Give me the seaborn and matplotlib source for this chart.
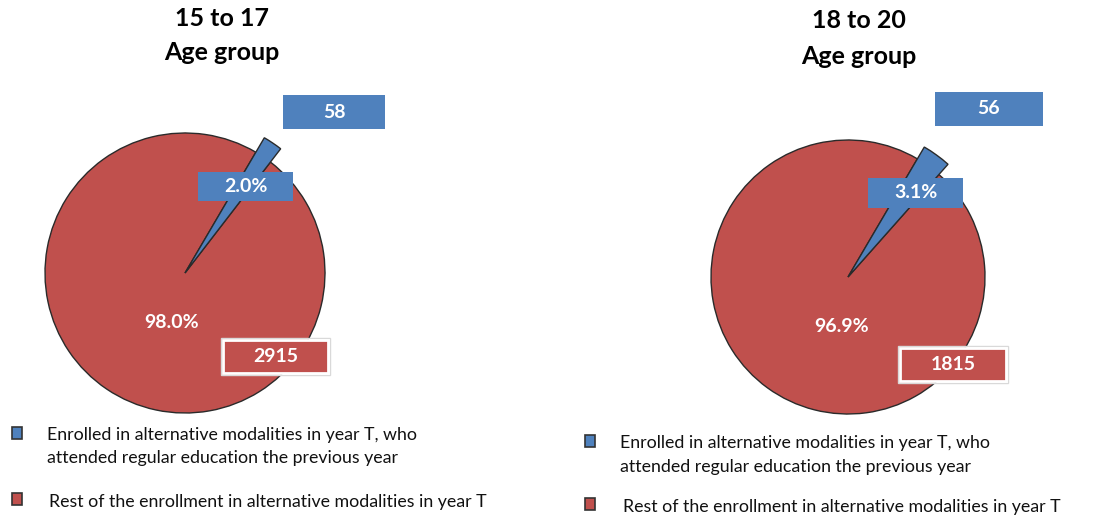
import matplotlib
matplotlib.use("Agg")
import matplotlib.pyplot as plt
from matplotlib.patches import Rectangle
import seaborn as sns

# Data
groups = ["15 to 17\nAge group", "18 to 20\nAge group"]
counts_prev_regular = [58, 56]          # enrolled in alternative modalities, regular education previous year
counts_rest = [2915, 1815]              # rest of the enrollment in alternative modalities
pct_prev_regular = [2.0, 3.1]
pct_rest = [98.0, 96.9]
legend_labels = [
    "Enrolled in alternative modalities in year T, who\nattended regular education the previous year",
    "Rest of the enrollment in alternative modalities in year T",
]

sns.set_theme(style="white")
plt.rcParams["font.family"] = ["Lato", "DejaVu Sans"]

BLUE = "#4F81BD"
RED = "#C0504D"
colors = [BLUE, RED]

W, H = 1104, 519
fig = plt.figure(figsize=(W / 100, H / 100), dpi=100)
ax = fig.add_axes([0, 0, 1, 1])


def Y(y):
    return H - y


# layout per panel (pixel units, y measured from top)
panels = [
    dict(center=(185, 273), radius=140, mid=56, tip=1.12,
         title=(222, 19, 53),
         count_box=(283, 95, 102, 34), pct_box=(198, 172, 95, 29),
         rest_pct=(172, 323), rest_box=(221, 338, 109, 37),
         leg_sq=17, leg_tx=47, leg_y=(435, 458, 502), leg_tx2=49),
    dict(center=(848, 277), radius=137, mid=54, tip=1.10,
         title=(859, 21, 56),
         count_box=(935, 92, 108, 34), pct_box=(868, 178, 95, 30),
         rest_pct=(842, 326), rest_box=(898, 346, 110, 37),
         leg_sq=590, leg_tx=620, leg_y=(443, 467, 507), leg_tx2=623),
]

LABEL_FS = 14
LEGEND_FS = 12.8

for i, p in enumerate(panels):
    cx, cy = p["center"]
    r = p["radius"]
    vals = [pct_prev_regular[i], pct_rest[i]]
    start = p["mid"] - 360 * vals[0] / sum(vals) / 2
    wedges, _ = ax.pie(vals, colors=colors, startangle=start, counterclock=True,
                       center=(cx, Y(cy)), radius=r,
                       wedgeprops=dict(edgecolor="#2a2a2a", linewidth=1.0))
    wedges[0].set_radius(r * p["tip"])
    wedges[0].set_zorder(3)
    wedges[1].set_zorder(2)

    # titles
    tx, ty1, ty2 = p["title"]
    line1, line2 = groups[i].split("\n")
    ax.text(tx, Y(ty1), line1, ha="center", va="center", fontsize=18,
            fontweight="bold", color="black", zorder=6)
    ax.text(tx, Y(ty2), line2, ha="center", va="center", fontsize=18,
            fontweight="bold", color="black", zorder=6)

    # count label for the small slice
    bx, by, bw, bh = p["count_box"]
    ax.add_patch(Rectangle((bx, Y(by + bh)), bw, bh, facecolor=BLUE,
                           edgecolor="none", zorder=5))
    ax.text(bx + bw / 2, Y(by + bh / 2), f"{counts_prev_regular[i]}", ha="center",
            va="center", color="white", fontsize=LABEL_FS, fontweight="bold", zorder=6)

    # percentage label for the small slice
    bx, by, bw, bh = p["pct_box"]
    ax.add_patch(Rectangle((bx, Y(by + bh)), bw, bh, facecolor=BLUE,
                           edgecolor="none", zorder=5))
    ax.text(bx + bw / 2, Y(by + bh / 2), f"{pct_prev_regular[i]:.1f}%", ha="center",
            va="center", color="white", fontsize=LABEL_FS, fontweight="bold", zorder=6)

    # percentage label for the large slice
    px_, py_ = p["rest_pct"]
    ax.text(px_, Y(py_), f"{pct_rest[i]:.1f}%", ha="center", va="center",
            color="white", fontsize=LABEL_FS, fontweight="bold", zorder=6)

    # count label for the large slice
    bx, by, bw, bh = p["rest_box"]
    ax.add_patch(Rectangle((bx, Y(by + bh)), bw, bh, facecolor="none",
                           edgecolor="#d9d9d9", linewidth=1.0, zorder=5))
    ax.add_patch(Rectangle((bx + 2, Y(by + bh - 2)), bw - 4, bh - 4, facecolor=RED,
                           edgecolor="white", linewidth=2.0, zorder=5))
    ax.text(bx + bw / 2, Y(by + bh / 2), f"{counts_rest[i]}", ha="center",
            va="center", color="white", fontsize=LABEL_FS, fontweight="bold", zorder=6)

    # legend
    sq = p["leg_sq"]
    ly1, ly2, ly3 = p["leg_y"]
    for c, yy in zip(colors, (ly1 - 2, ly3 - 3)):
        ax.add_patch(Rectangle((sq - 5, Y(yy + 6)), 10, 12, facecolor=c,
                               edgecolor="#333333", linewidth=1.2, zorder=5))
    l1, l2 = legend_labels[0].split("\n")
    ax.text(p["leg_tx"], Y(ly1), l1, ha="left", va="center", fontsize=LEGEND_FS,
            color="#111111", zorder=6)
    ax.text(p["leg_tx"], Y(ly2), l2, ha="left", va="center", fontsize=LEGEND_FS,
            color="#111111", zorder=6)
    ax.text(p["leg_tx2"], Y(ly3), legend_labels[1], ha="left", va="center",
            fontsize=LEGEND_FS, color="#111111", zorder=6)

ax.set_xlim(0, W)
ax.set_ylim(0, H)
ax.set_aspect("auto")
ax.axis("off")

fig.savefig("out.png", dpi=100, facecolor="white")
